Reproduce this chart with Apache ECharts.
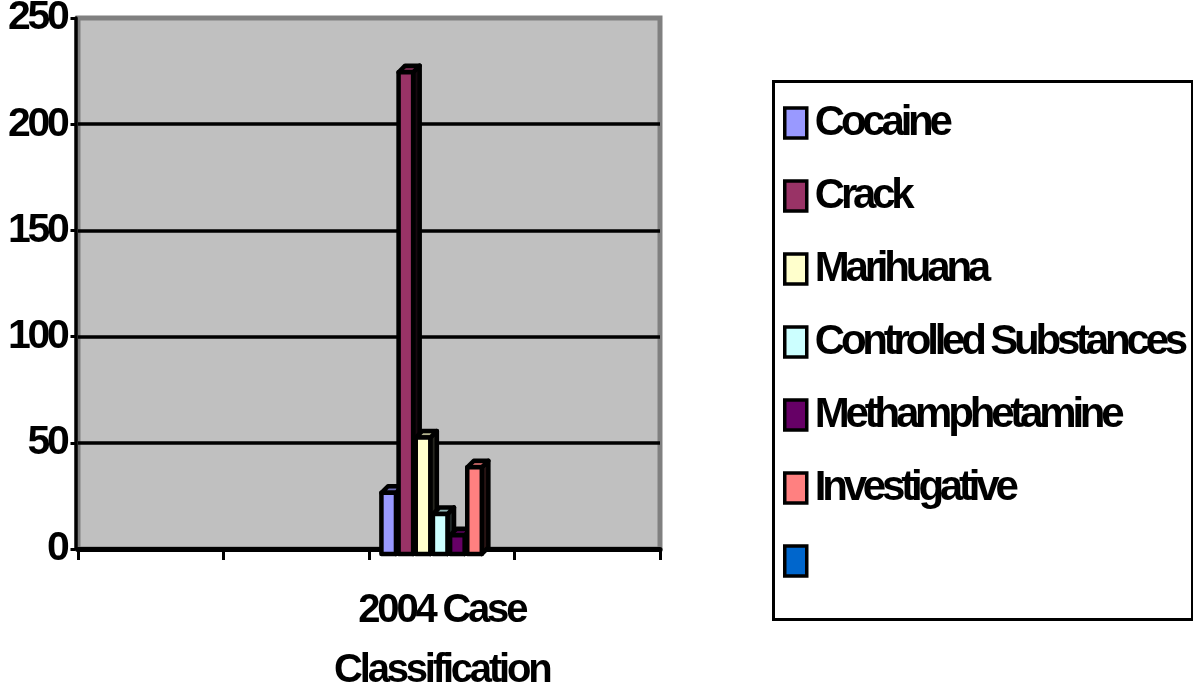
<!DOCTYPE html>
<html>
<head>
<meta charset="utf-8">
<script src="https://cdn.jsdelivr.net/npm/echarts@6/dist/echarts.min.js"></script>
<style>html,body{margin:0;padding:0;background:#fff;}#c{width:1193px;height:688px;}</style>
</head>
<body>
<div id="c"></div>
<script>
const categories = ['', '', '2004 Case\nClassification', ''];
const seriesNames = ['Cocaine', 'Crack', 'Marihuana', 'Controlled Substances', 'Methamphetamine', 'Investigative', ' '];
const seriesValues = [28, 226, 54, 18, 8, 40, null];
const seriesColors = ['#9999ff', '#993366', '#ffffcc', '#ccffff', '#660066', '#ff8080', '#0066cc'];
const dataCategoryIndex = 2;
const yTicks = { min: 0, max: 250, interval: 50 };

const FONT = "'Liberation Sans', Arial, sans-serif";

// Tight (condensed) text spacing, like the original's rendering.
(function () {
  const SPACING = { 42: -4.2, 41: -3.3, 40: -3.2 };
  const proto = CanvasRenderingContext2D.prototype;
  function apply(ctx) {
    if (!('letterSpacing' in ctx)) return;
    const m = /(\d+(?:\.\d+)?)px/.exec(ctx.font);
    const ls = m ? SPACING[Math.round(parseFloat(m[1]))] : null;
    ctx.letterSpacing = ls ? ls + 'px' : '0px';
  }
  const of = proto.fillText, om = proto.measureText;
  proto.fillText = function (t, x, y, w) { apply(this); return w === undefined ? of.call(this, t, x, y) : of.call(this, t, x, y, w); };
  proto.measureText = function (t) { apply(this); return om.call(this, t); };
})();

function shade(hex, f) {
  const n = parseInt(hex.slice(1), 16);
  const r = Math.round(((n >> 16) & 255) * f), g = Math.round(((n >> 8) & 255) * f), b = Math.round((n & 255) * f);
  return 'rgb(' + r + ',' + g + ',' + b + ')';
}

const series = seriesNames.map((name, i) => ({
  name: name,
  type: 'custom',
  itemStyle: { color: seriesColors[i] },
  clip: false,
  data: seriesValues[i] == null ? [] : [[dataCategoryIndex, seriesValues[i]]],
  renderItem: function (params, api) {
    const cat = api.value(0), val = api.value(1);
    const p0 = api.coord([cat, 0]);
    const p1 = api.coord([cat, val]);
    const band = api.size([1, 0])[0];
    const pitch = band * 0.118, w = band * 0.1, d = band * 0.045;
    const cx = p0[0] + (i - 2.9) * pitch;
    const x0 = cx - w / 2 - d / 2, x1 = x0 + w;
    const yb = p0[1] + 5, yt = p1[1] + d / 2;
    const col = seriesColors[i];
    const st = { stroke: '#000', lineWidth: 4.5, lineJoin: 'round' };
    return {
      type: 'group',
      children: [
        { type: 'polygon', shape: { points: [[x1, yt], [x1 + d, yt - d], [x1 + d, yb - d], [x1, yb]] }, style: Object.assign({ fill: shade(col, 0.15) }, st) },
        { type: 'polygon', shape: { points: [[x0, yt], [x0 + d, yt - d], [x1 + d, yt - d], [x1, yt]] }, style: Object.assign({ fill: shade(col, 0.7) }, st) },
        { type: 'rect', shape: { x: x0, y: yt, width: w, height: yb - yt }, style: Object.assign({ fill: col }, st) }
      ]
    };
  }
}));

const chart = echarts.init(document.getElementById('c'));
chart.setOption({
  animation: false,
  backgroundColor: '#fff',
  grid: { left: 78, right: 533, top: 18, bottom: 139, outerBoundsMode: 'none', containLabel: false, show: true, backgroundColor: '#c0c0c0', borderColor: '#808080', borderWidth: 5 },
  xAxis: {
    type: 'category',
    data: categories,
    offset: 7,
    axisLine: { lineStyle: { color: '#000', width: 5 } },
    axisTick: { show: true, length: 11, lineStyle: { color: '#000', width: 3 } },
    axisLabel: { color: '#000', fontFamily: FONT, fontWeight: 'bold', fontSize: 40, lineHeight: 60, margin: 25, interval: 0 },
    splitLine: { show: false }
  },
  yAxis: {
    type: 'value',
    min: yTicks.min, max: yTicks.max, interval: yTicks.interval,
    offset: 2.5,
    axisLine: { show: true, lineStyle: { color: '#000', width: 3.5 } },
    axisTick: { show: true, length: 5, lineStyle: { color: '#000', width: 3 } },
    axisLabel: { color: '#000', fontFamily: FONT, fontWeight: 'bold', fontSize: 41, margin: 9, padding: [7, 0, 0, 0] },
    splitLine: { show: true, showMinLine: false, showMaxLine: false, lineStyle: { color: '#000', width: 3.5 } }
  },
  legend: {
    orient: 'vertical',
    left: 778,
    top: 97,
    itemWidth: 22,
    itemHeight: 30,
    itemGap: 31,
    icon: 'rect',
    data: seriesNames.map((n, i) => ({ name: n, itemStyle: { color: seriesColors[i], borderColor: '#000', borderWidth: 3.5 } })),
    textStyle: { color: '#000', fontFamily: FONT, fontWeight: 'bold', fontSize: 42, lineHeight: 42, padding: [0, 0, 0, 3] }
  },
  graphic: [
    { type: 'rect', left: 771, top: 79, shape: { width: 419, height: 538 }, style: { fill: 'none', stroke: '#000', lineWidth: 3 }, z: 10 }
  ],
  series: series
});
</script>
</body>
</html>
